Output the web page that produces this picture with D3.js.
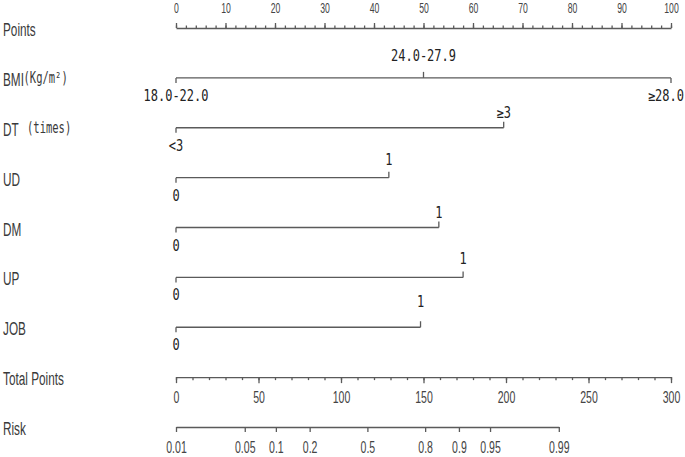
<!DOCTYPE html>
<html>
<head>
<meta charset="utf-8">
<script src="https://cdn.jsdelivr.net/npm/d3@7"></script>
<style>
  body { margin: 0; background: #fff; }
  text { white-space: pre; }
</style>
</head>
<body>
<script>
// nomogram data
var rowNames = ['Points', 'BMI', 'DT', 'UD', 'DM', 'UP', 'JOB', 'Total Points', 'Risk']
var varNames = ['BMI', 'DT', 'UD', 'DM', 'UP', 'JOB']
var varUnits = ['(Kg/m\u00b2)', '(times)', '', '', '', '']
var levelLabels = [
	['18.0-22.0', '24.0-27.9', '\u226528.0'],
	['<3', '\u22653'],
	['0', '1'],
	['0', '1'],
	['0', '1'],
	['0', '1']
]
var levelPoints = [
	[0, 50, 100],
	[0, 66.2],
	[0, 43],
	[0, 53.1],
	[0, 58],
	[0, 49.4]
]
var pointTicks = d3.range(0, 101, 10)
var pointMinor = d3.range(0, 101, 2)
var totalTicks = d3.range(0, 301, 50)
var totalMinor = d3.range(0, 301, 10)
var riskTicks = [0.01, 0.05, 0.1, 0.2, 0.5, 0.8, 0.9, 0.95, 0.99]
var riskTotalRange = [0, 232]   // total points where risk = 0.01 and 0.99

// layout
var W = 685, H = 457
var aboveLift = [17, 10, 13, 10, 13, 20]   // label offset above line, per variable
var unitX = [23.5, 27]
var lineColor = '#5a5a5a'
var sansFont = '"Liberation Sans", Arial, sans-serif'
var monoFont = '"DejaVu Sans Mono", monospace'

var svg = d3.select('body').append('svg')
	.attr('width', W)
	.attr('height', H)

// scales
var xPts = d3.scaleLinear().domain([0, 100]).range([176, 671])
var xTot = d3.scaleLinear().domain([0, 300]).range([176, 671])
var yRow = d3.scalePoint().domain(rowNames).range([28, 427])
var logit = function (p) { return Math.log(p / (1 - p)) }
var riskToTotal = d3.scaleLinear()
	.domain([logit(0.01), logit(0.99)])
	.range(riskTotalRange)

// row titles
rowNames.forEach(function (name) {
	svg.append('text')
		.attr('transform', 'translate(3,' + (yRow(name) + 8) + ') scale(0.62,1)')
		.attr('font-family', sansFont)
		.attr('font-size', 19)
		.attr('fill', '#3a3a3a')
		.text(name)
})
// units next to BMI / DT
varNames.forEach(function (name, i) {
	if (!varUnits[i]) return
	svg.append('text')
		.attr('transform', 'translate(' + unitX[i] + ',' + (yRow(name) + 5) + ') scale(0.7,1)')
		.attr('font-family', monoFont)
		.attr('font-size', 15)
		.attr('fill', '#3a3a3a')
		.text(varUnits[i])
})

function styleAxis(g, size) {
	g.select('.domain').attr('stroke', lineColor).attr('stroke-width', 1.3)
	g.selectAll('line').attr('stroke', lineColor).attr('stroke-width', 1.3)
	g.selectAll('text')
		.attr('font-family', sansFont)
		.attr('font-size', size)
		.attr('fill', '#444')
		.attr('transform', 'scale(0.62,1)')
}

// Points axis (ticks up)
svg.append('g')
	.attr('transform', 'translate(0,' + yRow('Points') + ')')
	.call(d3.axisTop(xPts).tickValues(pointMinor).tickSize(2.5).tickSizeOuter(0).tickFormat(''))
	.call(styleAxis, 14)
svg.append('g')
	.attr('transform', 'translate(0,' + yRow('Points') + ')')
	.call(d3.axisTop(xPts).tickValues(pointTicks).tickSize(5).tickSizeOuter(0).tickPadding(10))
	.call(styleAxis, 14)
	.call(function (g) { g.select('.domain').remove() })

// variable rows
varNames.forEach(function (name, i) {
	var y = yRow(name)
	var pts = levelPoints[i]
	var g = svg.append('g').attr('transform', 'translate(0,' + y + ')')
	g.append('line')
		.attr('x1', xPts(d3.min(pts)))
		.attr('x2', xPts(d3.max(pts)))
		.attr('stroke', lineColor)
		.attr('stroke-width', 1.3)
	pts.forEach(function (p, j) {
		var up = j % 2 === 1
		g.append('line')
			.attr('x1', xPts(p)).attr('x2', xPts(p))
			.attr('y1', 0).attr('y2', up ? -6 : 5)
			.attr('stroke', lineColor)
			.attr('stroke-width', 1.3)
		var t = g.append('text')
			.attr('text-anchor', 'middle')
			.attr('font-family', monoFont)
			.attr('font-size', 15)
			.attr('fill', '#222')
			.text(levelLabels[i][j])
		// keep labels inside the picture
		var half = t.node().getComputedTextLength() * 0.8 / 2
		var cx = Math.min(xPts(p), W - 1 - half)
		t.attr('transform', 'translate(' + cx + ',' + (up ? -aboveLift[i] : 23) + ') scale(0.8,1)')
	})
})

// Total Points axis (ticks down)
svg.append('g')
	.attr('transform', 'translate(0,' + yRow('Total Points') + ')')
	.call(d3.axisBottom(xTot).tickValues(totalMinor).tickSize(3).tickSizeOuter(0).tickFormat(''))
	.call(styleAxis, 17)
svg.append('g')
	.attr('transform', 'translate(0,' + yRow('Total Points') + ')')
	.call(d3.axisBottom(xTot).tickValues(totalTicks).tickSize(6).tickSizeOuter(0).tickPadding(8))
	.call(styleAxis, 17)
	.call(function (g) { g.select('.domain').remove() })

// Risk axis
var xRisk = function (p) { return xTot(riskToTotal(logit(p))) }
var riskScale = d3.scaleLinear()
	.domain([logit(0.01), logit(0.99)])
	.range([xRisk(0.01), xRisk(0.99)])
svg.append('g')
	.attr('transform', 'translate(0,' + yRow('Risk') + ')')
	.call(d3.axisBottom(riskScale)
		.tickValues(riskTicks.map(logit))
		.tickFormat(function (d, i) { return String(riskTicks[i]) })
		.tickSize(5).tickSizeOuter(0).tickPadding(9))
	.call(styleAxis, 17)
</script>
</body>
</html>
